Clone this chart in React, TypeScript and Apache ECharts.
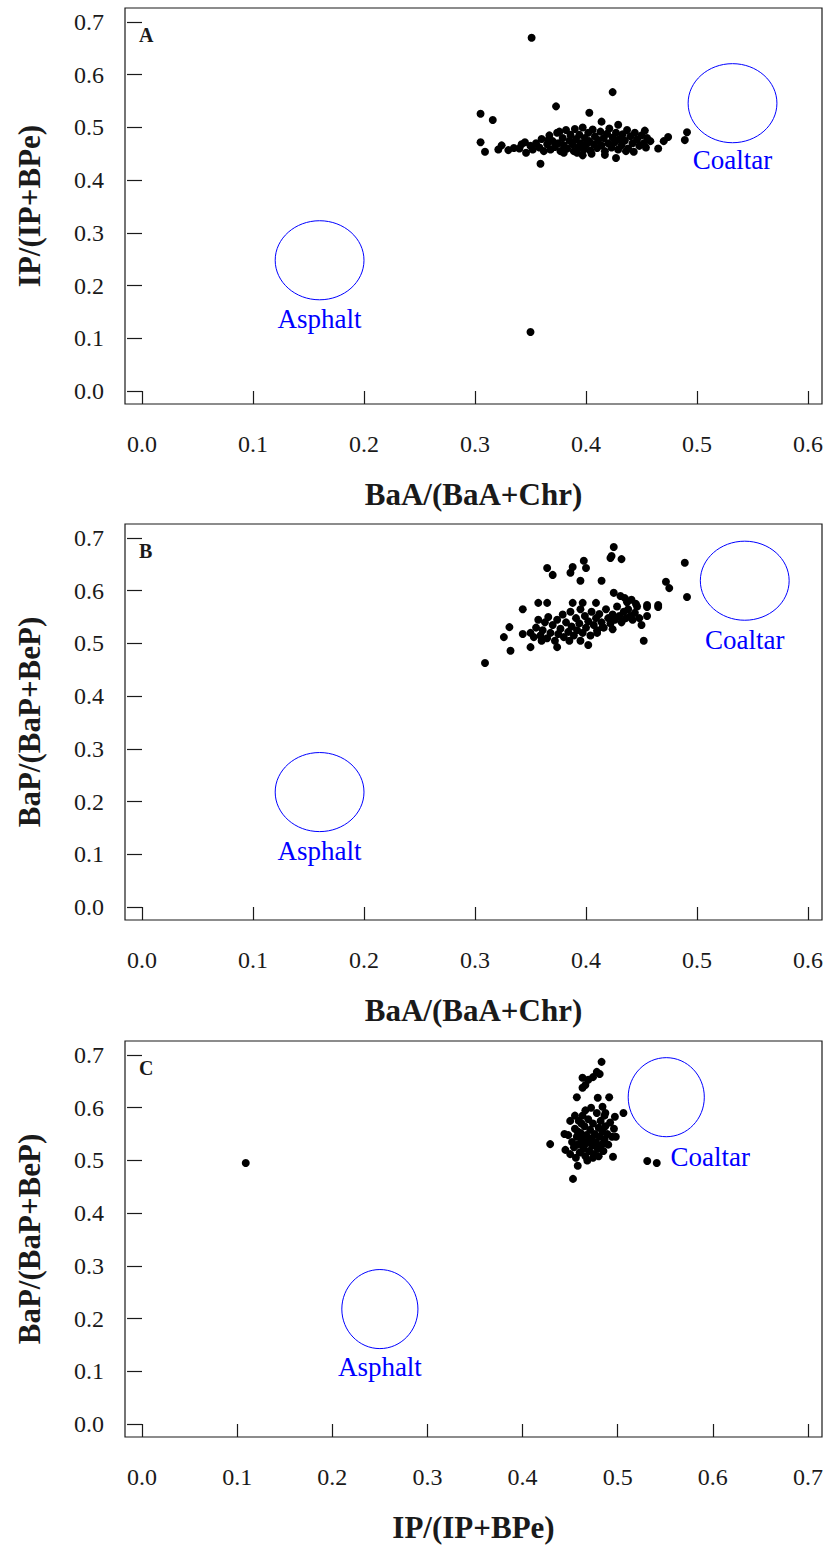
import React, { useEffect, useRef } from "react";
import * as echarts from "echarts";

// ---------------- data ----------------
const panelNames = ["A", "B", "C"];
const xTitles = ["BaA/(BaA+Chr)", "BaA/(BaA+Chr)", "IP/(IP+BPe)"];
const yTitles = ["IP/(IP+BPe)", "BaP/(BaP+BeP)", "BaP/(BaP+BeP)"];
const xTicksAB = [0, 0.1, 0.2, 0.3, 0.4, 0.5, 0.6];
const xTicksC = [0, 0.1, 0.2, 0.3, 0.4, 0.5, 0.6, 0.7];
const yTicks = [0, 0.1, 0.2, 0.3, 0.4, 0.5, 0.6, 0.7];

// source regions: [cx, cy, rx, ry, name]
const regionsA: [number, number, number, number, string][] = [
  [0.16, 0.248, 0.04, 0.075, "Asphalt"],
  [0.532, 0.546, 0.04, 0.075, "Coaltar"],
];
const regionsB: [number, number, number, number, string][] = [
  [0.16, 0.218, 0.04, 0.075, "Asphalt"],
  [0.543, 0.619, 0.04, 0.075, "Coaltar"],
];
const regionsC: [number, number, number, number, string][] = [
  [0.25, 0.218, 0.04, 0.075, "Asphalt"],
  [0.551, 0.62, 0.04, 0.075, "Coaltar"],
];

const pointsA: [number, number][] = [
  [0.351, 0.670], [0.350, 0.112], [0.373, 0.540], [0.424, 0.567], [0.305, 0.526], [0.316, 0.514],
  [0.403, 0.528], [0.414, 0.511], [0.429, 0.505], [0.453, 0.494], [0.491, 0.491], [0.474, 0.482],
  [0.489, 0.476], [0.305, 0.472], [0.309, 0.454], [0.324, 0.466], [0.321, 0.458], [0.330, 0.457],
  [0.335, 0.461], [0.342, 0.468], [0.346, 0.452], [0.359, 0.431], [0.454, 0.462], [0.465, 0.460],
  [0.443, 0.454], [0.427, 0.442], [0.417, 0.448], [0.405, 0.450], [0.397, 0.447], [0.380, 0.452],
  [0.355, 0.470], [0.358, 0.462], [0.360, 0.478], [0.362, 0.455], [0.365, 0.468], [0.367, 0.485],
  [0.368, 0.458], [0.370, 0.474], [0.372, 0.463], [0.374, 0.490], [0.375, 0.470], [0.377, 0.455],
  [0.379, 0.480], [0.380, 0.466], [0.382, 0.495], [0.383, 0.460], [0.385, 0.475], [0.386, 0.486],
  [0.388, 0.468], [0.389, 0.455], [0.390, 0.497], [0.391, 0.478], [0.393, 0.462], [0.394, 0.486],
  [0.395, 0.470], [0.397, 0.500], [0.398, 0.458], [0.399, 0.480], [0.400, 0.466], [0.402, 0.490],
  [0.403, 0.474], [0.404, 0.456], [0.406, 0.496], [0.407, 0.468], [0.408, 0.483], [0.410, 0.461],
  [0.411, 0.476], [0.413, 0.492], [0.414, 0.466], [0.416, 0.480], [0.417, 0.455], [0.419, 0.488],
  [0.420, 0.470], [0.421, 0.498], [0.423, 0.462], [0.424, 0.481], [0.426, 0.472], [0.427, 0.490],
  [0.429, 0.458], [0.430, 0.478], [0.432, 0.466], [0.433, 0.487], [0.435, 0.475], [0.437, 0.495],
  [0.438, 0.460], [0.440, 0.483], [0.442, 0.470], [0.444, 0.490], [0.446, 0.477], [0.448, 0.465],
  [0.450, 0.485], [0.452, 0.470], [0.455, 0.480], [0.458, 0.474], [0.470, 0.474], [0.436, 0.455],
  [0.392, 0.452], [0.376, 0.492], [0.366, 0.476], [0.350, 0.465], [0.340, 0.460], [0.345, 0.472],
  [0.352, 0.458],
];

const pointsB: [number, number][] = [
  [0.425, 0.683], [0.422, 0.662], [0.423, 0.666], [0.432, 0.660], [0.365, 0.643], [0.370, 0.630],
  [0.388, 0.645], [0.386, 0.634], [0.398, 0.657], [0.400, 0.643], [0.395, 0.619], [0.414, 0.619],
  [0.489, 0.653], [0.472, 0.617], [0.475, 0.605], [0.491, 0.588], [0.425, 0.596], [0.431, 0.590],
  [0.435, 0.586], [0.441, 0.583], [0.357, 0.577], [0.365, 0.577], [0.388, 0.577], [0.397, 0.577],
  [0.409, 0.577], [0.455, 0.573], [0.465, 0.573], [0.309, 0.463], [0.332, 0.486], [0.326, 0.512],
  [0.331, 0.531], [0.343, 0.565], [0.350, 0.493], [0.374, 0.493], [0.402, 0.497], [0.452, 0.505],
  [0.465, 0.569], [0.455, 0.569], [0.455, 0.552], [0.450, 0.535], [0.424, 0.527], [0.415, 0.531],
  [0.410, 0.520],
  [0.350, 0.520], [0.353, 0.512], [0.355, 0.530], [0.357, 0.545], [0.359, 0.515], [0.361, 0.525],
  [0.363, 0.540], [0.365, 0.510], [0.366, 0.550], [0.368, 0.520], [0.370, 0.535], [0.372, 0.505],
  [0.374, 0.545], [0.375, 0.518], [0.377, 0.528], [0.379, 0.555], [0.380, 0.512], [0.382, 0.540],
  [0.384, 0.522], [0.386, 0.560], [0.387, 0.532], [0.389, 0.515], [0.391, 0.548], [0.392, 0.525],
  [0.394, 0.538], [0.395, 0.565], [0.397, 0.520], [0.399, 0.552], [0.400, 0.530], [0.402, 0.542],
  [0.404, 0.515], [0.405, 0.560], [0.407, 0.535], [0.409, 0.548], [0.410, 0.525], [0.412, 0.556],
  [0.414, 0.540], [0.416, 0.530], [0.418, 0.565], [0.420, 0.548], [0.422, 0.538], [0.424, 0.555],
  [0.426, 0.545], [0.428, 0.570], [0.430, 0.552], [0.432, 0.540], [0.434, 0.560], [0.436, 0.548],
  [0.438, 0.565], [0.440, 0.552], [0.442, 0.545], [0.444, 0.558], [0.446, 0.570], [0.448, 0.548],
  [0.437, 0.578], [0.445, 0.575], [0.385, 0.505], [0.395, 0.505], [0.360, 0.505], [0.343, 0.518],
];

const pointsC: [number, number][] = [
  [0.109, 0.495], [0.483, 0.687], [0.478, 0.668], [0.474, 0.658], [0.469, 0.653], [0.463, 0.657],
  [0.466, 0.643], [0.457, 0.620], [0.463, 0.638], [0.481, 0.664], [0.479, 0.619], [0.491, 0.620],
  [0.484, 0.602], [0.487, 0.590], [0.506, 0.590], [0.497, 0.583], [0.429, 0.531], [0.444, 0.550],
  [0.498, 0.545], [0.495, 0.507], [0.458, 0.490], [0.453, 0.465], [0.531, 0.499], [0.541, 0.495],
  [0.445, 0.520], [0.448, 0.548], [0.450, 0.512], [0.452, 0.535], [0.454, 0.525], [0.455, 0.560],
  [0.456, 0.505], [0.457, 0.545], [0.458, 0.530], [0.459, 0.575], [0.460, 0.515], [0.461, 0.552],
  [0.462, 0.540], [0.463, 0.585], [0.464, 0.522], [0.465, 0.565], [0.466, 0.508], [0.467, 0.548],
  [0.468, 0.535], [0.469, 0.578], [0.470, 0.518], [0.471, 0.558], [0.472, 0.542], [0.473, 0.528],
  [0.474, 0.570], [0.475, 0.512], [0.476, 0.550], [0.477, 0.535], [0.478, 0.590], [0.479, 0.522],
  [0.480, 0.562], [0.481, 0.545], [0.482, 0.575], [0.483, 0.530], [0.484, 0.555], [0.485, 0.518],
  [0.486, 0.540], [0.487, 0.565], [0.489, 0.550], [0.490, 0.530], [0.492, 0.572], [0.494, 0.545],
  [0.496, 0.560], [0.466, 0.595], [0.472, 0.600], [0.462, 0.570], [0.458, 0.555], [0.474, 0.505],
  [0.468, 0.500], [0.480, 0.508], [0.455, 0.585], [0.450, 0.575], [0.486, 0.585], [0.465, 0.530],
];

// ---------------- layout / style ----------------
const FONT = "'Liberation Serif', 'Times New Roman', serif";
const BLUE = "#0000ff";
const INK = "#1a1a1a";
const gridTops = [8, 524, 1041];
const GRID_LEFT = 125;
const GRID_W = 697;
const GRID_H = 396;
const Y_MIN = -0.0247;
const Y_MAX = 0.7266;
const X_RANGES: [number, number][] = [
  [-0.0153, 0.6126],
  [-0.0153, 0.6126],
  [-0.0179, 0.7147],
];
// label shift (px) for each panel's region labels
const labelShift: [number, number][][] = [
  [[0, 59], [0, 57]],
  [[0, 59], [0, 59]],
  [[0, 58], [44, 60]],
];

export default function App() {
  const ref = useRef<HTMLDivElement>(null);
  useEffect(() => {
    if (!ref.current) return;
    const chart = echarts.init(ref.current, undefined, { renderer: "svg" });
    const points = [pointsA, pointsB, pointsC];
    const regions = [regionsA, regionsB, regionsC];
    const xTicks = [xTicksAB, xTicksAB, xTicksC];

    const grid = gridTops.map((t) => ({
      left: GRID_LEFT,
      top: t,
      width: GRID_W,
      height: GRID_H,
      show: true,
      borderColor: INK,
      borderWidth: 1.2,
      backgroundColor: "transparent",
    }));

    const xAxis = [0, 1, 2].map((i) => ({
      type: "value",
      gridIndex: i,
      min: X_RANGES[i][0],
      max: X_RANGES[i][1],
      offset: 3,
      axisLine: { show: false },
      axisTick: {
        show: true,
        length: 13,
        customValues: xTicks[i],
        lineStyle: { color: INK, width: 1.2 },
      },
      axisLabel: {
        customValues: xTicks[i],
        formatter: (v: number) => v.toFixed(1),
        margin: 25,
        fontSize: 24,
        fontFamily: FONT,
        color: INK,
      },
      splitLine: { show: false },
      name: xTitles[i],
      nameLocation: "middle",
      nameGap: 72,
      nameTextStyle: {
        fontSize: 31,
        fontWeight: "bold",
        fontFamily: FONT,
        color: INK,
      },
    }));

    const yAxis = [0, 1, 2].map((i) => ({
      type: "value",
      gridIndex: i,
      min: Y_MIN,
      max: Y_MAX,
      axisLine: { show: false },
      axisTick: {
        show: true,
        length: 15,
        customValues: yTicks,
        lineStyle: { color: INK, width: 1.2 },
      },
      axisLabel: {
        customValues: yTicks,
        formatter: (v: number) => v.toFixed(1),
        margin: 21,
        fontSize: 24,
        fontFamily: FONT,
        color: INK,
      },
      splitLine: { show: false },
      name: yTitles[i],
      nameLocation: "middle",
      nameGap: 80,
      nameRotate: 90,
      nameTextStyle: {
        fontSize: 31,
        fontWeight: "bold",
        fontFamily: FONT,
        color: INK,
      },
    }));

    const series: any[] = [];
    [0, 1, 2].forEach((i) => {
      series.push({
        type: "scatter",
        xAxisIndex: i,
        yAxisIndex: i,
        data: points[i],
        symbol: "circle",
        symbolSize: 8,
        itemStyle: { color: "#000", opacity: 1 },
        silent: true,
      });
      series.push({
        type: "custom",
        xAxisIndex: i,
        yAxisIndex: i,
        data: regions[i],
        silent: true,
        renderItem: (params: any, api: any) => {
          const idx = params.dataIndex;
          const c = api.coord([api.value(0), api.value(1)]);
          const s = api.size([api.value(2), api.value(3)]);
          const sh = labelShift[i][idx];
          return {
            type: "group",
            children: [
              {
                type: "ellipse",
                shape: { cx: c[0], cy: c[1], rx: s[0], ry: s[1] },
                style: { fill: "none", stroke: BLUE, lineWidth: 1 },
              },
              {
                type: "text",
                x: c[0] + sh[0],
                y: c[1] + sh[1],
                style: {
                  text: regions[i][idx][4],
                  fill: BLUE,
                  font: `27px ${FONT}`,
                  align: "center",
                  verticalAlign: "middle",
                },
              },
            ],
          };
        },
      });
    });

    const graphic = panelNames.map((n, i) => ({
      type: "text",
      left: 139,
      top: gridTops[i] + 17,
      style: {
        text: n,
        font: `bold 20px ${FONT}`,
        fill: INK,
      },
    }));

    chart.setOption({
      animation: false,
      backgroundColor: "#fff",
      grid,
      xAxis,
      yAxis,
      series,
      graphic,
    });
    return () => chart.dispose();
  }, []);

  return (
    <div
      ref={ref}
      style={{ position: "absolute", left: 0, top: 0, width: 827, height: 1546 }}
    />
  );
}
